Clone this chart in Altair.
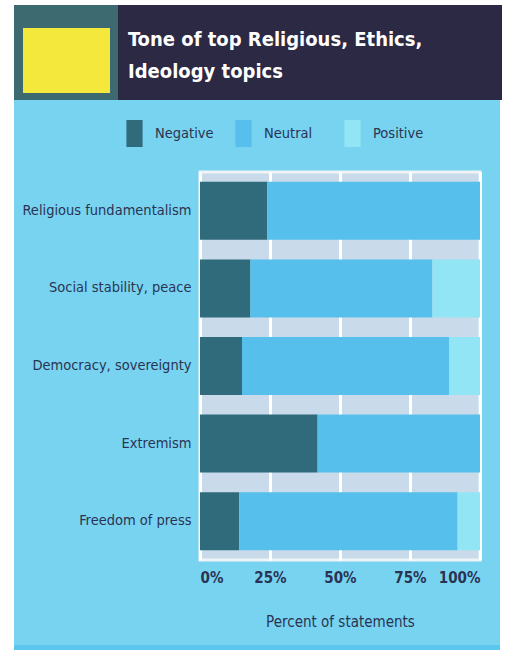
import altair as alt
import pandas as pd

topics = ["Religious fundamentalism", "Social stability, peace", "Democracy, sovereignty",
          "Extremism", "Freedom of press"]
negative = [24, 18, 15, 42, 14]
neutral = [76, 65, 74, 58, 78]
positive = [0, 17, 11, 0, 8]
tones = ["Negative", "Neutral", "Positive"]
tone_colors = ["#2f6b7b", "#56bfeb", "#92e5f4"]
ticks = [0, 25, 50, 75, 100]
title_text = "Tone of top Religious, Ethics,\nIdeology topics"
x_title = "Percent of statements"

rows = []
for i, t in enumerate(topics):
    for j, (tone, vals) in enumerate(zip(tones, [negative, neutral, positive])):
        rows.append({"topic": t, "tone": tone, "value": vals[i], "order": j})
df = pd.DataFrame(rows)

FONT = "Liberation Sans Narrow, DejaVu Sans Condensed, sans-serif"
TXT = "#2a3352"
W, H = 280, 388

one = pd.DataFrame({"a": [0]})

def box(x, x2, y, y2, color):
    return alt.Chart(one).mark_rect(color=color).encode(
        x=alt.value(x), x2=alt.value(x2), y=alt.value(y), y2=alt.value(y2))

deco = [
    box(-200, -186, -172, 485, "#ffffff"),
    box(300, 305, -172, 485, "#ffffff"),
    box(-200, 305, -172, -167, "#ffffff"),
    box(-200, 305, 478, 485, "#ffffff"),
    box(-186, 300, 473, 478, "#5cc6ee"),
    box(-186, 302, -167, -72, "#2b2944"),
    box(-186, -82, -167, -72, "#3c6a70"),
    box(-177, -90, -144, -79, "#f4e83c"),
]

title = alt.Chart(pd.DataFrame({"t": [title_text]})).mark_text(
    align="left", baseline="alphabetic", font=FONT, fontWeight="bold",
    fontSize=20, lineBreak="\n", lineHeight=32, color="#ffffff"
).encode(x=alt.value(-72), y=alt.value(-126), text="t:N")

bars = alt.Chart(df).mark_bar(size=58).encode(
    y=alt.Y("topic:N", sort=topics, title=None,
            axis=alt.Axis(labelFont=FONT, labelFontSize=14.5, labelColor=TXT,
                          ticks=False, domain=False, labelPadding=9, labelLimit=200)),
    x=alt.X("value:Q", stack="zero", scale=alt.Scale(domain=[0, 100], nice=False),
            title=x_title,
            axis=alt.Axis(values=ticks, labelExpr="datum.value + '%'",
                          labelFont=FONT, labelFontSize=15, labelFontWeight="bold",
                          labelColor=TXT, labelPadding=10, ticks=False, domain=False,
                          grid=True, gridColor="#ffffff", gridWidth=3,
                          titleFont=FONT, titleFontSize=15, titleFontWeight="normal",
                          titleColor=TXT, titlePadding=29)),
    color=alt.Color("tone:N", scale=alt.Scale(domain=tones, range=tone_colors), title=None,
                    legend=alt.Legend(orient="none", legendX=-79, legendY=-52,
                                      direction="horizontal",
                                      symbolType="M-0.6,-1H0.6V1H-0.6Z", symbolSize=729,
                                      symbolStrokeWidth=0, symbolOpacity=1,
                                      labelFont=FONT, labelFontSize=14.5, labelColor=TXT,
                                      labelOffset=7, columnPadding=16, gridAlign="all",
                                      padding=0)),
    order=alt.Order("order:Q"),
)

chart = alt.layer(*deco, title, bars).properties(
    width=W, height=H,
    autosize=alt.AutoSizeParams(type="none"),
    padding={"left": 200, "top": 172, "right": 25, "bottom": 97},
    background="#78d3f1",
).configure_view(fill="#c9daea", stroke="#eef3f6", strokeWidth=3)

chart.save("out.html", embed_options={"renderer": "svg", "actions": False})
